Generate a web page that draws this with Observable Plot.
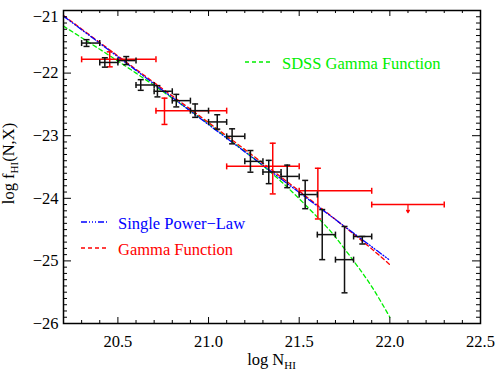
<!DOCTYPE html>
<html><head><meta charset="utf-8">
<script src="https://cdn.jsdelivr.net/npm/d3@7"></script>
<script src="https://cdn.jsdelivr.net/npm/@observablehq/plot@0.6"></script>
<style>
body{margin:0;background:#fff}
#chart{width:498px;height:378px}
#chart svg text, #chart svg tspan { font-family: "Liberation Serif", "DejaVu Serif", serif !important; }
</style>
</head><body><div id="chart"></div>
<script>
// SDSS binned f(N) points (black)
const sdssX     = [20.327, 20.428, 20.546, 20.626, 20.718, 20.822, 20.926, 21.048, 21.130, 21.231, 21.332, 21.434, 21.533, 21.627, 21.750, 21.848];
const sdssY     = [-21.52, -21.83, -21.80, -22.19, -22.29, -22.44, -22.60, -22.78, -23.01, -23.41, -23.58, -23.65, -23.94, -24.58, -24.98, -24.61];
const sdssErrLo = [0.054, 0.075, 0.064, 0.085, 0.09, 0.10, 0.107, 0.115, 0.12, 0.173, 0.186, 0.18, 0.226, 0.40, 0.53, 0.12];
const sdssErrHi = [0.054, 0.075, 0.064, 0.085, 0.09, 0.10, 0.107, 0.115, 0.12, 0.173, 0.186, 0.18, 0.226, 0.40, 0.53, 0.0];
const sdssXLo   = [20.3, 20.4, 20.5, 20.6, 20.7, 20.8, 20.9, 21.0, 21.1, 21.2, 21.3, 21.4, 21.5, 21.6, 21.7, 21.8];
const sdssXHi   = [20.4, 20.5, 20.6, 20.7, 20.8, 20.9, 21.0, 21.1, 21.2, 21.3, 21.4, 21.5, 21.6, 21.7, 21.8, 21.9];

// 21cm survey points (red)
const redX   = [20.455, 20.757, 21.354, 21.603];
const redY   = [-21.78, -22.60, -23.49, -23.88];
const redYLo = [-21.90, -22.82, -23.93, -24.33];
const redYHi = [-21.66, -22.40, -23.12, -23.52];
const redXLo = [20.30, 20.71, 21.10, 21.50];
const redXHi = [20.71, 21.10, 21.50, 21.90];
// upper limit (red)
const limX = [22.10], limY = [-24.10], limXLo = [21.90], limXHi = [22.30], limLen = [0.13];

// fitted curves
const plX = [20.2, 22.0];
const plY = [-21.09, -24.99];
const gamX = [20.2, 20.6, 21.0, 21.4, 21.8, 22.0];
const gamY = [-21.08, -21.94, -22.79, -23.66, -24.57, -25.06];
const sgX = [20.2, 20.4, 20.6, 20.8, 21.0, 21.2, 21.4, 21.6, 21.7, 21.8, 21.9, 22.0];
const sgY = [-21.25, -21.62, -22.00, -22.40, -22.81, -23.25, -23.73, -24.30, -24.62, -25.00, -25.41, -25.90];

// ticks
const xTickLabels = [20.5, 21.0, 21.5, 22.0, 22.5];
const xMajor = [20.5, 21.0, 21.5, 22.0];
const yTickLabels = [-26, -25, -24, -23, -22];
const yTopLabel = [-21];
const yMajor = [-25, -24, -23, -22];
const xMinor = d3.range(203, 225).map(d => d / 10).filter(d => !xMajor.includes(d));
const yMinor = d3.range(-259, -210).map(d => d / 10).filter(d => !yMajor.includes(d));

const sdss = sdssX.map((x, i) => ({x, y: sdssY[i], xlo: sdssXLo[i], xhi: sdssXHi[i], ylo: sdssY[i] - sdssErrLo[i], yhi: sdssY[i] + sdssErrHi[i]}));
const red = redX.map((x, i) => ({x, y: redY[i], xlo: redXLo[i], xhi: redXHi[i], ylo: redYLo[i], yhi: redYHi[i]}));
const lim = limX.map((x, i) => ({x, y: limY[i], xlo: limXLo[i], xhi: limXHi[i], y2: limY[i] - limLen[i]}));
const pl = plX.map((x, i) => ({x, y: plY[i]}));
const gam = gamX.map((x, i) => ({x, y: gamY[i]}));
const sg = sgX.map((x, i) => ({x, y: sgY[i]}));

const W = 498, H = 378, mL = 63, mR = 18, mT = 10, mB = 55;
const pw = W - mL - mR, ph = H - mT - mB;

const capV = {draw(ctx, size) { const r = Math.sqrt(size / Math.PI); ctx.moveTo(0, -r); ctx.lineTo(0, r); }};
const capH = {draw(ctx, size) { const r = Math.sqrt(size / Math.PI); ctx.moveTo(-r, 0); ctx.lineTo(r, 0); }};

const BLK = "#111", RED = "#ff0000", BLUE = "#0000ff", GRN = "#00ee00";
const FONT = "Liberation Serif, DejaVu Serif, serif";

function errbars(data, color) {
  return [
    Plot.ruleY(data, {y: "y", x1: "xlo", x2: "xhi", stroke: color, strokeWidth: 1.5}),
    Plot.ruleX(data, {x: "x", y1: "ylo", y2: "yhi", stroke: color, strokeWidth: 1.5}),
    Plot.dot(data, {x: "xlo", y: "y", symbol: capV, r: 3, stroke: color, strokeWidth: 1.5, fill: "none"}),
    Plot.dot(data, {x: "xhi", y: "y", symbol: capV, r: 3, stroke: color, strokeWidth: 1.5, fill: "none"}),
    Plot.dot(data, {x: "x", y: "ylo", symbol: capH, r: 3, stroke: color, strokeWidth: 1.5, fill: "none"}),
    Plot.dot(data, {x: "x", y: "yhi", symbol: capH, r: 3, stroke: color, strokeWidth: 1.5, fill: "none"})
  ];
}

const plot = Plot.plot({
  width: W, height: H,
  marginLeft: mL, marginRight: mR, marginTop: mT, marginBottom: mB,
  style: {fontFamily: FONT, fontSize: "16.5px", background: "white", color: "black"},
  x: {domain: [20.2, 22.5]},
  y: {domain: [-26, -21]},
  marks: [
    // curves
    Plot.line(sg, {x: "x", y: "y", stroke: GRN, strokeWidth: 1.3, strokeDasharray: "4,3", curve: "natural"}),
    Plot.line(gam, {x: "x", y: "y", stroke: RED, strokeWidth: 1.3, strokeDasharray: "4,3", curve: "natural"}),
    Plot.line(pl, {x: "x", y: "y", stroke: BLUE, strokeWidth: 1.3, strokeDasharray: "6,2,1,2,1,2,1,2"}),
    // error bars
    ...errbars(red, RED),
    ...errbars(sdss, BLK),
    Plot.ruleY(lim, {y: "y", x1: "xlo", x2: "xhi", stroke: RED, strokeWidth: 1.5}),
    Plot.dot(lim, {x: "xlo", y: "y", symbol: capV, r: 3, stroke: RED, strokeWidth: 1.5, fill: "none"}),
    Plot.dot(lim, {x: "xhi", y: "y", symbol: capV, r: 3, stroke: RED, strokeWidth: 1.5, fill: "none"}),
    Plot.arrow(lim, {x1: "x", y1: "y", x2: "x", y2: "y2", stroke: RED, strokeWidth: 1.2, headLength: 5}),
    // inward ticks
    Plot.tickX(xMinor, {x: d => d, insetTop: ph - 3, stroke: "black"}),
    Plot.tickX(xMinor, {x: d => d, insetBottom: ph - 3, stroke: "black"}),
    Plot.tickX(xMajor, {x: d => d, insetTop: ph - 6, stroke: "black"}),
    Plot.tickX(xMajor, {x: d => d, insetBottom: ph - 6, stroke: "black"}),
    Plot.tickY(yMinor, {y: d => d, insetRight: pw - 4, stroke: "black"}),
    Plot.tickY(yMinor, {y: d => d, insetLeft: pw - 4, stroke: "black"}),
    Plot.tickY(yMajor, {y: d => d, insetRight: pw - 8, stroke: "black"}),
    Plot.tickY(yMajor, {y: d => d, insetLeft: pw - 8, stroke: "black"}),
    Plot.frame({stroke: "black", strokeWidth: 1.5}),
    Plot.axisX({ticks: xTickLabels, tickSize: 0, tickPadding: 12, tickFormat: d3.format(".1f"), label: null}),
    Plot.axisY({ticks: yTickLabels, tickSize: 0, tickPadding: 5, tickFormat: d3.format("d"), label: null}),
    Plot.axisY({ticks: yTopLabel, tickSize: 0, tickPadding: 5, tickFormat: d3.format("d"), label: null, dy: 6})
  ]
});

document.getElementById("chart").appendChild(plot);

const svg = d3.select(plot);
// axis titles with subscripts
const xt = svg.append("text").attr("x", mL + pw / 2).attr("y", 365).attr("text-anchor", "middle")
  .attr("font-family", FONT).attr("font-size", 16.5).attr("fill", "black");
xt.append("tspan").text("log N");
xt.append("tspan").attr("font-size", 11).attr("dy", 4).text("HI");

const yt = svg.append("text").attr("transform", `translate(14,${mT + ph / 2 - 3}) rotate(-90)`).attr("text-anchor", "middle")
  .attr("font-family", FONT).attr("font-size", 16.5).attr("fill", "black");
yt.append("tspan").text("log f");
yt.append("tspan").attr("font-size", 11).attr("dy", 4).text("HI");
yt.append("tspan").attr("dy", -4).text("(N,X)");

// legend
const legend = [
  {label: "SDSS Gamma Function", color: GRN, dash: "4,3", x1: 245, x2: 272, ly: 62, tx: 282, ty: 69},
  {label: "Single Power\u2212Law", color: BLUE, dash: "6,2,1,2,1,2,1,2", x1: 81, x2: 107, ly: 222, tx: 118, ty: 229},
  {label: "Gamma Function", color: RED, dash: "4,3", x1: 81, x2: 107, ly: 248, tx: 118, ty: 255}
];
const lg = svg.append("g");
legend.forEach(d => {
  lg.append("line").attr("x1", d.x1).attr("x2", d.x2).attr("y1", d.ly).attr("y2", d.ly)
    .attr("stroke", d.color).attr("stroke-width", 1.3).attr("stroke-dasharray", d.dash);
  lg.append("text").attr("x", d.tx).attr("y", d.ty).attr("fill", d.color).attr("text-anchor", "start")
    .attr("font-family", FONT).attr("font-size", 16.5).text(d.label);
});
</script>
</body></html>
